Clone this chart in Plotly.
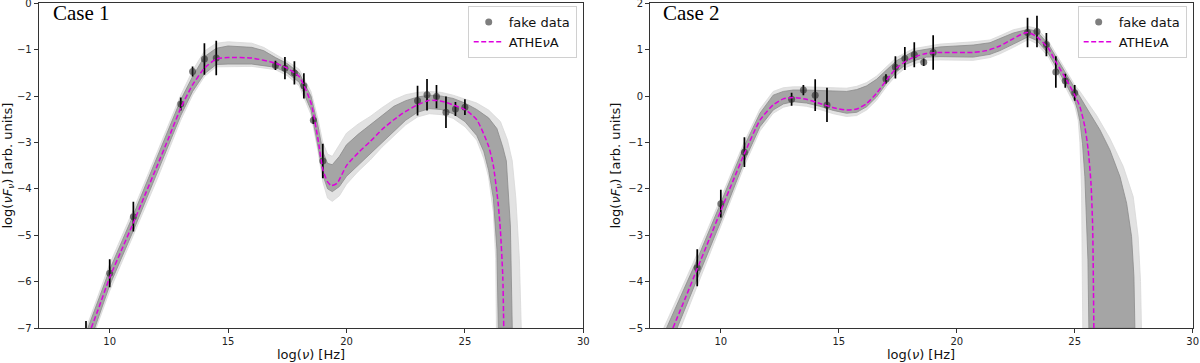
import plotly.graph_objects as go

# fake data points (same frequencies and error bars for both cases)
nu_data = [9, 10, 11, 13, 13.5, 14, 14.5, 17, 17.4, 17.8, 18.2, 18.6, 19, 23, 23.4, 23.8, 24.2, 24.6, 25]
err_data = [0.4, 0.3, 0.32, 0.14, 0.11, 0.34, 0.37, 0.1, 0.24, 0.25, 0.27, 0.08, 0.37, 0.32, 0.34, 0.25, 0.34, 0.15, 0.17]
flux1_data = [-7.25, -5.82, -4.6, -2.17, -1.47, -1.2, -1.18, -1.34, -1.4, -1.5, -1.78, -2.52, -3.4,
              -2.1, -1.97, -2.01, -2.35, -2.28, -2.24]
flux2_data = [-3.7, -2.32, -1.21, -0.07, 0.13, 0.02, -0.19, 0.37, 0.62, 0.81, 0.89, 0.73, 0.94,
              1.37, 1.39, 1.11, 0.52, 0.33, 0.07]

# Case 1: ATHEvA model and uncertainty bands
model1_x = [9.22, 9.5, 10, 10.5, 11, 11.5, 12, 12.5, 13, 13.5, 14, 14.5, 15, 16, 17, 17.5, 18, 18.5, 18.8,
            19, 19.2, 19.36, 19.6, 20, 20.5, 21, 21.5, 22, 22.5, 23, 23.5, 24, 24.5, 25, 25.5, 26, 26.2,
            26.4, 26.5, 26.6, 26.64]
model1_y = [-7.0, -6.62, -5.91, -5.32, -4.73, -4.12, -3.51, -2.89, -2.26, -1.76, -1.4, -1.2, -1.17, -1.18,
            -1.29, -1.4, -1.58, -2.15, -2.94, -3.58, -3.85, -3.93, -3.88, -3.5, -3.22, -2.98, -2.72, -2.51,
            -2.33, -2.19, -2.09, -2.11, -2.19, -2.29, -2.51, -3.08, -3.5, -4.3, -4.9, -5.9, -7.0]

dark1_hi_x = [9.08, 10, 11, 12, 13, 13.5, 14, 14.5, 15, 16, 16.5, 17, 17.5, 18, 18.5, 18.8, 19.0, 19.2, 19.4,
              19.7, 20, 20.5, 21, 21.5, 22, 22.5, 23, 23.5, 24, 24.5, 25, 25.5, 26.0, 26.35, 26.6, 26.75,
              26.92, 27.0]
dark1_hi_y = [-7.0, -5.74, -4.56, -3.33, -2.08, -1.58, -1.15, -0.97, -0.92, -0.95, -1.02, -1.17, -1.3, -1.5,
              -2.0, -2.65, -3.2, -3.45, -3.48, -3.3, -3.05, -2.82, -2.62, -2.4, -2.22, -2.1, -2.02, -1.98,
              -2.0, -2.05, -2.15, -2.29, -2.47, -2.7, -3.1, -3.4, -4.8, -7.0]
dark1_lo_x = [9.37, 10, 11, 12, 13, 13.5, 14, 14.5, 15, 16, 17, 17.5, 18, 18.5, 18.8, 19, 19.2, 19.4, 19.7,
              20, 20.5, 21, 21.5, 22, 22.5, 23, 23.5, 24, 24.5, 25, 25.5, 25.8, 26.0, 26.2, 26.35, 26.41]
dark1_lo_y = [-7.0, -6.08, -4.9, -3.68, -2.42, -1.9, -1.52, -1.32, -1.31, -1.31, -1.38, -1.5, -1.7, -2.3,
              -3.1, -3.7, -4.0, -4.06, -3.95, -3.73, -3.48, -3.26, -3.0, -2.76, -2.52, -2.35, -2.27, -2.29,
              -2.38, -2.55, -2.85, -3.2, -3.6, -4.2, -5.3, -7.0]
light1_hi_x = [9.01, 10, 11, 12, 13, 13.5, 14, 14.5, 15, 16, 16.5, 17, 17.5, 18, 18.5, 18.8, 19.0, 19.2,
               19.4, 19.7, 20, 20.5, 21, 21.5, 22, 22.5, 23, 23.5, 24, 24.5, 25, 25.5, 26, 26.5, 26.8,
               27.0, 27.15, 27.3, 27.38]
light1_hi_y = [-7.0, -5.62, -4.45, -3.2, -1.98, -1.45, -1.03, -0.86, -0.83, -0.86, -0.95, -1.1, -1.25,
               -1.42, -1.9, -2.5, -3.0, -3.25, -3.3, -3.05, -2.8, -2.6, -2.44, -2.25, -2.08, -1.97, -1.92,
               -1.9, -1.92, -1.98, -2.07, -2.15, -2.3, -2.55, -2.95, -3.4, -4.2, -5.5, -7.0]
light1_lo_x = [9.43, 10, 11, 12, 13, 13.5, 14, 14.5, 15, 16, 17, 17.5, 18, 18.5, 18.8, 19, 19.2, 19.4, 19.7,
               20, 20.5, 21, 21.5, 22, 22.5, 23, 23.5, 24, 24.5, 25, 25.5, 25.8, 26.0, 26.2, 26.3, 26.33]
light1_lo_y = [-7.0, -6.2, -5.0, -3.8, -2.52, -1.98, -1.58, -1.37, -1.36, -1.36, -1.43, -1.56, -1.78, -2.4,
               -3.2, -3.85, -4.2, -4.27, -4.15, -3.9, -3.62, -3.38, -3.1, -2.87, -2.62, -2.45, -2.38, -2.4,
               -2.48, -2.66, -2.95, -3.35, -3.75, -4.5, -5.5, -7.0]

# Case 2: ATHEvA model and uncertainty bands
model2_x = [7.97, 8.5, 9, 9.5, 10, 10.5, 11, 11.66, 12.22, 12.65, 13.07, 13.63, 14.2, 14.77, 15.33, 15.76,
            16.18, 16.6, 17.03, 17.44, 17.87, 18.3, 18.72, 19.29, 20.7, 21.26, 21.83, 22.4, 22.82, 23.03,
            23.39, 23.88, 24.23, 24.65, 25.0, 25.22, 25.43, 25.57, 25.69, 25.76, 25.81]
model2_y = [-5.0, -4.35, -3.72, -3.1, -2.47, -1.85, -1.24, -0.52, -0.19, -0.06, -0.03, -0.07, -0.16, -0.25,
            -0.3, -0.28, -0.16, 0.06, 0.35, 0.6, 0.76, 0.86, 0.92, 0.94, 0.94, 0.98, 1.08, 1.24, 1.35, 1.37,
            1.28, 1.03, 0.71, 0.35, 0.02, -0.23, -0.66, -1.16, -1.88, -2.81, -5.0]

dark2_hi_x = [7.7, 8.5, 9, 10, 11, 11.66, 12.22, 12.65, 13.07, 13.63, 14.2, 14.77, 15.33, 15.76, 16.18, 16.6,
              17.03, 17.44, 18.15, 19.29, 20.7, 21.41, 21.83, 22.4, 23.03, 23.39, 23.88, 24.23, 24.65, 25.0,
              25.36, 25.64, 26.07, 26.49, 26.92, 27.2, 27.41, 27.51, 27.55]
dark2_hi_y = [-5.0, -4.1, -3.52, -2.3, -1.07, -0.37, 0.02, 0.1, 0.13, 0.13, 0.12, 0.11, 0.1, 0.14, 0.22, 0.36,
              0.56, 0.76, 0.96, 1.06, 1.1, 1.15, 1.24, 1.36, 1.44, 1.4, 1.12, 0.82, 0.48, 0.16, -0.16, -0.37,
              -0.73, -1.16, -1.74, -2.31, -3.03, -3.89, -5.0]
dark2_lo_x = [8.15, 8.5, 9, 10, 11, 11.66, 12.22, 12.65, 13.07, 13.63, 14.2, 14.77, 15.33, 15.76, 16.18, 16.6,
              17.03, 17.44, 17.87, 18.3, 18.72, 19.29, 20.7, 21.41, 21.83, 22.4, 23.03, 23.39, 23.88, 24.23,
              24.65, 25.0, 25.12, 25.22, 25.33, 25.43, 25.5, 25.56, 25.6]
dark2_lo_y = [-5.0, -4.58, -3.95, -2.7, -1.4, -0.66, -0.3, -0.17, -0.12, -0.15, -0.22, -0.31, -0.37, -0.35,
              -0.23, -0.02, 0.28, 0.52, 0.69, 0.78, 0.84, 0.85, 0.84, 0.9, 0.98, 1.12, 1.28, 1.2, 0.92, 0.6,
              0.24, -0.1, -0.3, -0.55, -1.02, -1.74, -2.45, -3.53, -5.0]
light2_hi_x = [7.58, 8.5, 9, 10, 11, 11.66, 12.22, 12.65, 13.07, 13.63, 14.2, 14.77, 15.33, 15.76, 16.18,
               16.6, 17.03, 17.44, 18.15, 19.29, 20.7, 21.41, 21.83, 22.4, 23.03, 23.39, 23.88, 24.23, 24.65,
               25.0, 25.22, 25.93, 26.49, 27.06, 27.48, 27.69, 27.79, 27.83]
light2_hi_y = [-5.0, -3.97, -3.4, -2.2, -0.98, -0.28, 0.1, 0.18, 0.2, 0.2, 0.19, 0.18, 0.17, 0.21, 0.29, 0.43,
               0.63, 0.83, 1.02, 1.12, 1.17, 1.21, 1.3, 1.43, 1.5, 1.46, 1.19, 0.9, 0.56, 0.24, 0.1, -0.42,
               -0.91, -1.52, -2.17, -3.03, -4.0, -5.0]
light2_lo_x = [8.3, 9, 10, 11, 11.66, 12.22, 12.65, 13.07, 13.63, 14.2, 14.77, 15.33, 15.76, 16.18, 16.6,
               17.03, 17.44, 17.87, 18.3, 18.72, 19.29, 20.7, 21.41, 21.83, 22.4, 23.03, 23.39, 23.88, 24.23,
               24.65, 25.0, 25.15, 25.22, 25.29, 25.33, 25.34]
light2_lo_y = [-5.0, -4.08, -2.8, -1.5, -0.75, -0.37, -0.24, -0.19, -0.22, -0.29, -0.38, -0.44, -0.42, -0.3,
               -0.09, 0.21, 0.45, 0.62, 0.71, 0.77, 0.78, 0.77, 0.83, 0.91, 1.05, 1.22, 1.13, 0.85, 0.52,
               0.15, -0.2, -0.52, -1.0, -2.0, -3.5, -5.0]

LIGHT = "rgb(226,226,226)"
DARK = "rgb(165,165,165)"
MAGENTA = "rgb(222,0,222)"

fig = go.Figure()


def band(hi_x, hi_y, lo_x, lo_y, color, edge, xa, ya):
    fig.add_trace(go.Scatter(
        x=hi_x + lo_x[::-1], y=hi_y + lo_y[::-1], fill="toself", fillcolor=color,
        mode="lines", line=dict(color=edge, width=0.8), hoverinfo="skip",
        showlegend=False, xaxis=xa, yaxis=ya))


panels = [
    ("x", "y", "legend", light1_hi_x, light1_hi_y, light1_lo_x, light1_lo_y,
     dark1_hi_x, dark1_hi_y, dark1_lo_x, dark1_lo_y, model1_x, model1_y, flux1_data),
    ("x2", "y2", "legend2", light2_hi_x, light2_hi_y, light2_lo_x, light2_lo_y,
     dark2_hi_x, dark2_hi_y, dark2_lo_x, dark2_lo_y, model2_x, model2_y, flux2_data),
]
for (xa, ya, leg, lhx, lhy, llx, lly, dhx, dhy, dlx, dly, mx, my, fd) in panels:
    band(lhx, lhy, llx, lly, LIGHT, "rgb(216,216,216)", xa, ya)
    band(dhx, dhy, dlx, dly, DARK, "rgb(140,140,140)", xa, ya)
    fig.add_trace(go.Scatter(
        x=nu_data, y=fd, mode="markers", name="fake data",
        marker=dict(color="rgba(40,40,40,0.6)", size=7),
        error_y=dict(type="data", array=err_data, color="black", thickness=1.7, width=0),
        xaxis=xa, yaxis=ya, legend=leg))
    fig.add_trace(go.Scatter(
        x=mx, y=my, mode="lines", name="ATHE<i>ν</i>A",
        line=dict(color=MAGENTA, width=1.5, dash="5px,2.5px", shape="spline", smoothing=0.6),
        xaxis=xa, yaxis=ya, legend=leg))

axis_common = dict(
    showgrid=False, zeroline=False, showline=True, mirror=True, linecolor="#333", linewidth=1,
    ticks="outside", ticklen=4, tickcolor="#333", tickfont=dict(size=10, color="#222"),
    automargin=False, ticklabeloverflow="allow",
)
ylabel = "log(<i>νF</i><sub><i>ν</i></sub>) [arb. units]"
xlabel = "log(<i>ν</i>) [Hz]"
title_font = dict(family="DejaVu Sans", size=13, color="#111")
case_font = dict(family="Liberation Serif", size=21, color="black")
legend_style = dict(yanchor="top", xanchor="right", bgcolor="rgba(255,255,255,0.8)",
                    bordercolor="#d0d0d0", borderwidth=1, font=dict(size=13), tracegroupgap=2)


def note(text, x, y, **kw):
    return dict(text=text, xref="paper", yref="paper", x=x / 1200, y=1 - y / 363,
                showarrow=False, **kw)


fig.update_layout(
    width=1200, height=363,
    margin=dict(l=0, r=0, t=0, b=0),
    paper_bgcolor="white", plot_bgcolor="white",
    font=dict(family="DejaVu Sans", color="#111"),
    xaxis=dict(axis_common, domain=[0.0322, 0.4861], range=[7, 30], tickvals=[10, 15, 20, 25, 30], anchor="y"),
    yaxis=dict(axis_common, domain=[0.0964, 0.9909], range=[-7, 0], tickvals=list(range(-7, 1)), anchor="x"),
    xaxis2=dict(axis_common, domain=[0.5417, 0.9939], range=[7, 30], tickvals=[10, 15, 20, 25, 30], anchor="y2"),
    yaxis2=dict(axis_common, domain=[0.0964, 0.9909], range=[-5, 2], tickvals=list(range(-5, 3)), anchor="x2"),
    legend=dict(legend_style, x=0.4806, y=1 - 6 / 363),
    legend2=dict(legend_style, x=0.9889, y=1 - 6 / 363),
    annotations=[
        note("Case 1", 51, 13.5, xanchor="left", yanchor="middle", font=case_font),
        note("Case 2", 661, 13.5, xanchor="left", yanchor="middle", font=case_font),
        note(xlabel, 311, 354, xanchor="center", yanchor="middle", font=title_font),
        note(xlabel, 921, 354, xanchor="center", yanchor="middle", font=title_font),
        note(ylabel, 8, 165.5, xanchor="center", yanchor="middle", textangle=-90, font=title_font),
        note(ylabel, 616, 165.5, xanchor="center", yanchor="middle", textangle=-90, font=title_font),
    ],
)

# the page's default 8px body margin would push the figure off the window
fig.write_html("out.html", config={"displayModeBar": False},
               post_script="document.body.style.margin = '0';")
